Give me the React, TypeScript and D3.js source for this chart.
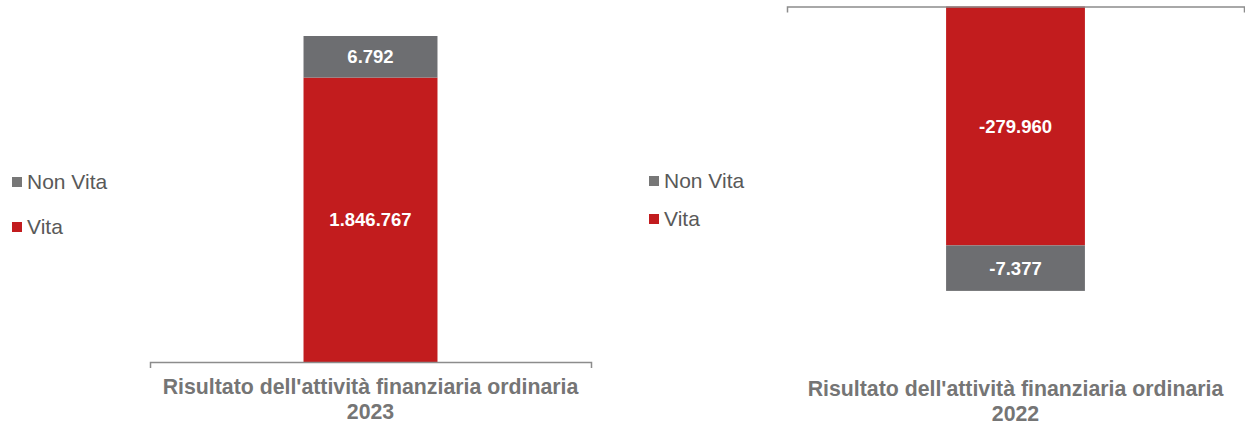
import React, { useEffect, useRef } from 'react';
import * as d3 from 'd3';

// data for the two panels
const category = "Risultato dell'attività finanziaria ordinaria";
const years = ['2023', '2022'];
const seriesNames = ['Non Vita', 'Vita'];
const vitaValues = [1846767, -279960];
const nonVitaValues = [6792, -7377];
// bar segment size as shown in the picture (share of the axis extent)
const vitaShare = [80.0, -67.2];
const nonVitaShare = [11.7, -12.8];

const RED = '#C21C1E';
const GREY = '#6D6E71';

const W = 1245;
const H = 426;

const itLocale = d3.formatLocale({
  decimal: ',',
  thousands: '.',
  grouping: [3],
  currency: ['€', ''],
  minus: '-',
});
const fmt = itLocale.format(',d');

// layout of each panel
const panels = [
  { x0: 150, x1: 591, legendX: 12, legendY: [189, 234], labelY: 394, positive: true },
  { x0: 787, x1: 1244, legendX: 649, legendY: [188, 226], labelY: 396, positive: false },
];

const App = () => {
  const ref = useRef<SVGSVGElement>(null);

  useEffect(() => {
    const svg = d3.select(ref.current);
    svg.selectAll('*').remove();

    panels.forEach((p, i) => {
      const g = svg.append('g');
      const x = d3.scaleBand<string>().domain([years[i]]).range([p.x0, p.x1]).padding(0.534);
      const y = d3
        .scaleLinear()
        .domain(p.positive ? [0, 100] : [-100, 0])
        .range([362, 6.5]);

      const bx = x(years[i]) as number;
      const bw = x.bandwidth();
      const v = vitaShare[i];
      const nv = nonVitaShare[i];

      // segments: vita from 0, non vita stacked on it
      const segs = [
        { from: 0, to: v, color: RED, label: fmt(vitaValues[i]) },
        { from: v, to: v + nv, color: GREY, label: fmt(nonVitaValues[i]) },
      ];

      g.selectAll('rect.seg')
        .data(segs)
        .enter()
        .append('rect')
        .attr('x', bx)
        .attr('width', bw)
        .attr('y', (d) => Math.min(y(d.from), y(d.to)))
        .attr('height', (d) => Math.abs(y(d.from) - y(d.to)))
        .attr('fill', (d) => d.color);

      g.selectAll('text.val')
        .data(segs)
        .enter()
        .append('text')
        .attr('x', bx + bw / 2)
        .attr('y', (d) => (y(d.from) + y(d.to)) / 2)
        .attr('dy', '0.36em')
        .attr('text-anchor', 'middle')
        .attr('fill', '#fff')
        .attr('font-weight', 'bold')
        .attr('font-size', '18.5px')
        .text((d) => d.label);

      // category axis
      const axis = d3.axisBottom(x).tickSizeInner(0).tickSizeOuter(6).tickFormat(() => '');
      const ag = g.append('g').attr('transform', `translate(0,${y(0)})`).call(axis);
      ag.select('.domain').attr('stroke', '#8C8C8C').attr('stroke-width', 1.5);
      ag.selectAll('.tick').remove();

      const lbl = g
        .append('text')
        .attr('text-anchor', 'middle')
        .attr('fill', '#757575')
        .attr('font-weight', 'bold')
        .attr('font-size', '21.3px');
      lbl.append('tspan').attr('x', bx + bw / 2).attr('y', p.labelY).text(category);
      lbl.append('tspan').attr('x', bx + bw / 2).attr('y', p.labelY + 25).text(years[i]);

      // legend
      const colors = ['#777777', RED];
      seriesNames.forEach((name, k) => {
        const ly = p.legendY[k];
        g.append('rect')
          .attr('x', p.legendX)
          .attr('y', ly - 12)
          .attr('width', 10)
          .attr('height', 10)
          .attr('fill', colors[k]);
        g.append('text')
          .attr('x', p.legendX + 15)
          .attr('y', ly)
          .attr('fill', '#595959')
          .attr('font-size', '21px')
          .text(name);
      });
    });
  }, []);

  return (
    <div style={{ position: 'absolute', left: 0, top: 0 }}>
      <svg
        ref={ref}
        width={W}
        height={H}
        style={{ display: 'block', fontFamily: 'Arial, "Liberation Sans", sans-serif', background: '#fff' }}
      />
    </div>
  );
};

export default App;
